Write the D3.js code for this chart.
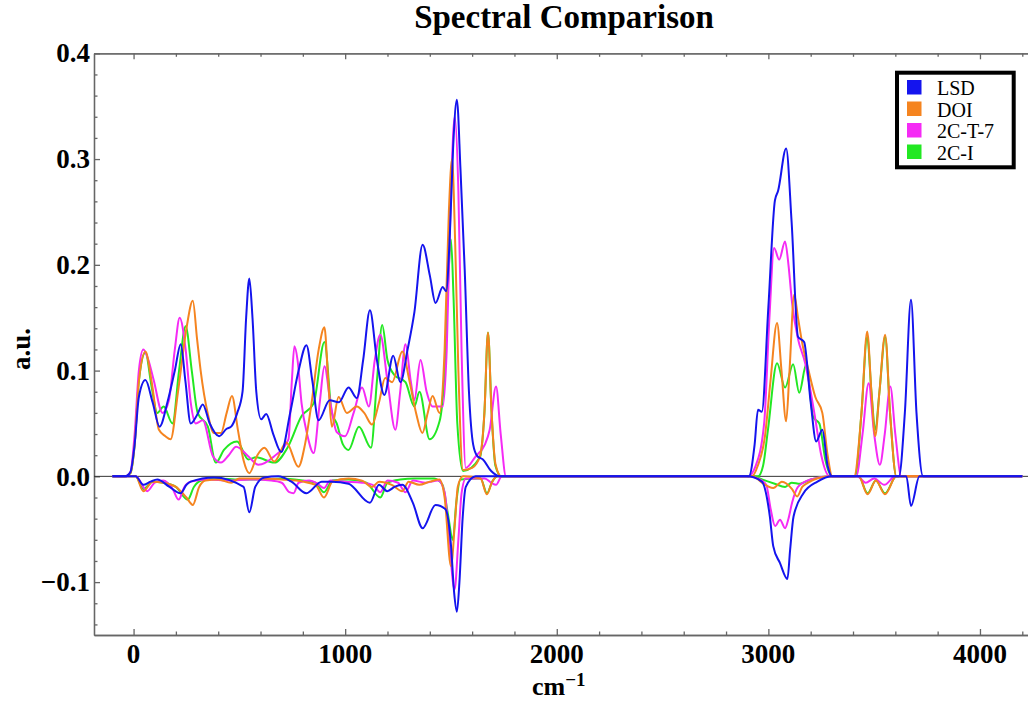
<!DOCTYPE html>
<html lang="en">
<head>
<meta charset="UTF-8" />
<title>Spectral Comparison</title>
<script src="https://d3js.org/d3.v7.min.js"></script>
<style>
  body { margin: 0; background: #fff; }
  svg text { font-family: "Liberation Serif", "Times New Roman", serif; }
  .curve { fill: none; stroke-width: 2; stroke-linejoin: round; }
  .frame path, .frame line { stroke: #666; stroke-width: 1.3; }
</style>
</head>
<body>
<svg id="chart" width="1028" height="702"></svg>
<script>
// series names and colours (legend order)
const names = ["LSD", "DOI", "2C-T-7", "2C-I"];
const colors = ["#1414ee", "#f5841f", "#f52af5", "#22e822"];

// [wavenumber cm-1, intensity a.u.]
const lsdUp = [[-100,0],[-40,0],[-15,0.004],[5,0.03],[25,0.075],[56,0.091],[90,0.07],[123,0.047],[160,0.07],[195,0.1],[223,0.125],[245,0.09],[270,0.05],[300,0.058],[327,0.068],[360,0.05],[404,0.038],[440,0.045],[461,0.047],[490,0.06],[515,0.08],[532,0.15],[547,0.187],[562,0.15],[580,0.08],[603,0.054],[627,0.059],[660,0.04],[698,0.023],[740,0.06],[780,0.1],[817,0.124],[845,0.09],[874,0.053],[927,0.072],[970,0.07],[1016,0.084],[1055,0.074],[1085,0.11],[1117,0.157],[1150,0.11],[1185,0.077],[1227,0.114],[1261,0.089],[1295,0.12],[1327,0.155],[1366,0.219],[1400,0.19],[1427,0.164],[1461,0.179],[1477,0.175],[1495,0.23],[1510,0.31],[1528,0.356],[1545,0.29],[1565,0.195],[1585,0.08],[1605,0.03],[1625,0.019],[1651,0.016],[1690,0.005],[1733,0],[2908,0],[2935,0.03],[2951,0.063],[2969,0.061],[3000,0.16],[3031,0.261],[3046,0.27],[3084,0.31],[3110,0.24],[3140,0.132],[3169,0.127],[3200,0.07],[3226,0.033],[3255,0.044],[3280,0.01],[3302,0],[3617,0],[3645,0.06],[3674,0.167],[3700,0.06],[3731,0],[4200,0]];
const lsdDown = [[-100,0],[10,0],[46,-0.008],[80,-0.005],[112,-0.003],[170,-0.01],[222,-0.016],[250,-0.008],[270,-0.005],[380,-0.001],[520,-0.01],[547,-0.034],[575,-0.01],[618,-0.001],[684,0],[746,-0.005],[817,-0.016],[889,-0.005],[937,-0.005],[1016,-0.007],[1117,-0.025],[1160,-0.008],[1199,-0.014],[1233,-0.01],[1270,-0.008],[1320,-0.025],[1366,-0.049],[1427,-0.027],[1474,-0.031],[1500,-0.065],[1515,-0.11],[1528,-0.128],[1540,-0.1],[1555,-0.04],[1570,-0.01],[1617,0],[2899,0],[2969,-0.005],[3007,-0.038],[3023,-0.066],[3055,-0.082],[3090,-0.097],[3103,-0.069],[3119,-0.038],[3166,-0.016],[3232,-0.005],[3302,0],[3652,0],[3674,-0.028],[3714,0],[4200,0]];

const doiUp = [[-100,0],[-40,0],[-15,0.003],[5,0.03],[25,0.09],[56,0.118],[85,0.09],[120,0.044],[150,0.038],[175,0.035],[210,0.08],[250,0.14],[280,0.166],[300,0.13],[317,0.1],[350,0.06],[380,0.041],[413,0.041],[440,0.06],[465,0.076],[493,0.044],[520,0.015],[547,0.003],[585,0.02],[618,0.027],[665,0.014],[722,0.032],[779,0.009],[810,0.03],[841,0.069],[875,0.12],[902,0.141],[920,0.09],[937,0.047],[969,0.075],[1008,0.06],[1055,0.066],[1090,0.06],[1127,0.049],[1160,0.07],[1189,0.093],[1222,0.089],[1270,0.118],[1303,0.091],[1335,0.06],[1365,0.041],[1390,0.06],[1413,0.076],[1446,0.06],[1470,0.12],[1490,0.25],[1505,0.3],[1520,0.22],[1535,0.1],[1557,0.006],[1600,0.008],[1637,0.019],[1658,0.06],[1675,0.136],[1692,0.06],[1710,0.012],[1738,0],[2922,0],[2950,0.01],[2984,0.038],[3010,0.09],[3041,0.145],[3062,0.1],[3084,0.052],[3100,0.1],[3122,0.172],[3140,0.15],[3160,0.126],[3190,0.1],[3222,0.075],[3255,0.06],[3280,0.02],[3302,0],[3405,0],[3440,0.06],[3467,0.137],[3487,0.08],[3505,0.038],[3525,0.08],[3552,0.134],[3575,0.06],[3605,0],[4200,0]];
const doiDown = [[-100,0],[10,0],[46,-0.014],[90,-0.005],[140,-0.006],[200,-0.01],[250,-0.02],[280,-0.027],[310,-0.01],[340,-0.004],[400,-0.003],[461,-0.006],[500,-0.002],[600,-0.002],[700,-0.003],[800,-0.005],[860,-0.008],[900,-0.02],[940,-0.005],[1016,-0.002],[1080,-0.004],[1127,-0.01],[1160,-0.005],[1220,-0.008],[1270,-0.014],[1300,-0.005],[1350,-0.008],[1400,-0.005],[1446,-0.003],[1470,-0.02],[1500,-0.085],[1520,-0.04],[1532,-0.01],[1557,0],[1640,-0.002],[1670,-0.017],[1695,-0.005],[1720,0],[2928,0],[2969,-0.006],[3023,-0.011],[3064,-0.005],[3112,-0.012],[3136,-0.019],[3160,-0.01],[3188,-0.006],[3230,-0.002],[3302,0],[3427,0],[3469,-0.017],[3508,-0.004],[3551,-0.017],[3605,0],[4200,0]];

const t7Up = [[-100,0],[-40,0],[-15,0.004],[5,0.04],[25,0.1],[46,0.12],[70,0.11],[95,0.091],[137,0.06],[167,0.072],[195,0.12],[218,0.15],[246,0.12],[270,0.07],[294,0.05],[327,0.053],[375,0.019],[413,0.013],[450,0.02],[485,0.028],[542,0.019],[589,0.011],[665,0.019],[732,0.035],[748,0.09],[760,0.123],[775,0.11],[794,0.069],[820,0.04],[851,0.022],[880,0.07],[902,0.104],[930,0.07],[960,0.042],[1000,0.038],[1040,0.06],[1080,0.084],[1112,0.066],[1140,0.11],[1166,0.134],[1200,0.09],[1237,0.044],[1260,0.08],[1285,0.125],[1310,0.09],[1327,0.072],[1356,0.11],[1385,0.08],[1413,0.066],[1461,0.066],[1480,0.12],[1500,0.27],[1518,0.34],[1535,0.27],[1550,0.12],[1570,0.008],[1617,0.019],[1660,0.03],[1683,0.044],[1713,0.085],[1735,0.04],[1760,0],[2903,0],[2940,0.01],[2980,0.05],[3005,0.15],[3027,0.216],[3051,0.205],[3079,0.222],[3095,0.2],[3112,0.164],[3140,0.13],[3174,0.107],[3200,0.08],[3222,0.054],[3250,0.02],[3290,0],[3415,0],[3445,0.04],[3474,0.088],[3500,0.04],[3527,0.011],[3550,0.04],[3576,0.085],[3600,0.04],[3628,0],[4200,0]];
const t7Down = [[-100,0],[10,0],[65,-0.014],[100,-0.006],[140,-0.004],[185,-0.012],[213,-0.022],[240,-0.01],[270,-0.005],[350,-0.003],[450,-0.004],[550,-0.003],[650,-0.004],[700,-0.006],[736,-0.015],[756,-0.016],[780,-0.006],[830,-0.004],[870,-0.007],[900,-0.011],[930,-0.004],[1000,-0.005],[1080,-0.006],[1130,-0.008],[1166,-0.015],[1200,-0.004],[1250,-0.006],[1285,-0.015],[1320,-0.004],[1380,-0.006],[1440,-0.004],[1470,-0.015],[1495,-0.07],[1517,-0.107],[1535,-0.06],[1550,-0.016],[1570,-0.002],[1660,-0.002],[1690,-0.006],[1713,-0.008],[1740,0],[2903,0],[2950,-0.002],[2990,-0.008],[3010,-0.03],[3032,-0.047],[3055,-0.041],[3079,-0.049],[3095,-0.04],[3112,-0.025],[3140,-0.01],[3200,-0.003],[3302,0],[3420,0],[3460,-0.006],[3500,-0.002],[3548,-0.008],[3600,0],[4200,0]];

const ciUp = [[-100,0],[-40,0],[-15,0.003],[5,0.03],[25,0.09],[56,0.117],[85,0.085],[112,0.06],[142,0.066],[184,0.05],[215,0.1],[246,0.142],[275,0.1],[303,0.06],[351,0.047],[389,0.013],[427,0.025],[489,0.033],[542,0.016],[580,0.018],[665,0.013],[730,0.028],[794,0.057],[851,0.069],[902,0.127],[937,0.06],[960,0.05],[990,0.03],[1016,0.025],[1065,0.047],[1122,0.027],[1150,0.09],[1175,0.143],[1200,0.11],[1232,0.096],[1285,0.089],[1327,0.066],[1351,0.08],[1399,0.035],[1446,0.052],[1470,0.1],[1488,0.19],[1500,0.224],[1512,0.17],[1530,0.05],[1557,0.005],[1637,0.018],[1658,0.06],[1675,0.136],[1692,0.06],[1710,0.01],[1738,0],[2951,0],[2975,0.01],[2998,0.044],[3041,0.107],[3079,0.084],[3117,0.106],[3146,0.079],[3179,0.106],[3212,0.056],[3241,0.05],[3270,0.015],[3302,0],[3410,0],[3440,0.06],[3467,0.132],[3487,0.08],[3505,0.044],[3525,0.08],[3552,0.132],[3575,0.06],[3605,0],[4200,0]];
const ciDown = [[-100,0],[10,0],[46,-0.012],[90,-0.005],[140,-0.006],[200,-0.01],[256,-0.022],[285,-0.01],[320,-0.004],[400,-0.002],[500,-0.003],[600,-0.003],[700,-0.002],[800,-0.004],[860,-0.006],[900,-0.015],[940,-0.004],[1016,-0.003],[1100,-0.006],[1166,-0.02],[1200,-0.006],[1260,-0.003],[1330,-0.002],[1420,-0.002],[1460,-0.008],[1485,-0.035],[1509,-0.06],[1525,-0.025],[1545,-0.003],[1640,-0.002],[1670,-0.016],[1695,-0.005],[1720,0],[2930,0],[2970,-0.003],[3030,-0.007],[3079,-0.01],[3110,-0.006],[3150,-0.007],[3200,-0.003],[3302,0],[3427,0],[3469,-0.016],[3508,-0.004],[3551,-0.016],[3605,0],[4200,0]];

const xMajor = [0, 1000, 2000, 3000, 4000];
const yMajor = [-0.1, 0.0, 0.1, 0.2, 0.3, 0.4];

// plot frame
const plotLeft = 94, plotRight = 1028, plotTop = 53.3, plotBottom = 635;

const svg = d3.select("#chart");

const x = d3.scaleLinear().domain([-187, 4227]).range([plotLeft, plotRight]);
const y = d3.scaleLinear().domain([-0.15, 0.4]).range([plotBottom, plotTop]);

const xMinor = d3.range(200, 4201, 200).filter(v => v % 1000 != 0);
const yMinor = d3.range(-14, 41, 2).map(v => v / 100).filter(v => Math.abs(v * 10 - Math.round(v * 10)) > 1e-6);

// axes, ticks pointing inward
function frameAxis(axis, transform) {
  const g = svg.append("g").attr("class", "frame").attr("transform", transform).call(axis);
  g.selectAll("text").remove();
  return g;
}

frameAxis(d3.axisBottom(x).tickValues(xMajor).tickSizeInner(-6).tickSizeOuter(0), `translate(0,${plotBottom})`);
frameAxis(d3.axisBottom(x).tickValues(xMinor).tickSizeInner(-3.5).tickSizeOuter(0), `translate(0,${plotBottom})`);
frameAxis(d3.axisTop(x).tickValues(xMajor).tickSizeInner(-6).tickSizeOuter(0), `translate(0,${plotTop})`);
frameAxis(d3.axisTop(x).tickValues(xMinor).tickSizeInner(-3.5).tickSizeOuter(0), `translate(0,${plotTop})`);
frameAxis(d3.axisLeft(y).tickValues(yMajor).tickSizeInner(-6).tickSizeOuter(0), `translate(${plotLeft},0)`);
frameAxis(d3.axisLeft(y).tickValues(yMinor).tickSizeInner(-3.5).tickSizeOuter(0), `translate(${plotLeft},0)`);

// tick labels
svg.append("g").selectAll("text").data(xMajor).join("text")
  .attr("x", d => x(d)).attr("y", 663)
  .attr("text-anchor", "middle")
  .attr("font-size", 27).attr("font-weight", "bold")
  .text(d => d);

svg.append("g").selectAll("text").data(yMajor).join("text")
  .attr("x", 90).attr("y", d => y(d)).attr("dy", "0.34em")
  .attr("text-anchor", "end")
  .attr("font-size", 27).attr("font-weight", "bold")
  .text(d3.format(".1f"));

// zero line
svg.append("line")
  .attr("x1", plotLeft).attr("x2", plotRight)
  .attr("y1", y(0)).attr("y2", y(0))
  .attr("stroke", "#333").attr("stroke-width", 1);

// curves
const line = d3.line()
  .x(d => x(d[0]))
  .y(d => y(d[1]))
  .curve(d3.curveMonotoneX);

const series = [
  [ciUp, ciDown, 3],
  [t7Up, t7Down, 2],
  [doiUp, doiDown, 1],
  [lsdUp, lsdDown, 0]
];

series.forEach(([up, down, i]) => {
  [up, down].forEach(pts => {
    svg.append("path")
      .attr("class", "curve")
      .attr("stroke", colors[i])
      .attr("d", line(pts));
  });
});

// title and axis labels
svg.append("text")
  .attr("x", 564).attr("y", 28)
  .attr("text-anchor", "middle")
  .attr("font-size", 33).attr("font-weight", "bold")
  .text("Spectral Comparison");

svg.append("text")
  .attr("transform", "translate(30,349) rotate(-90)")
  .attr("text-anchor", "middle")
  .attr("font-size", 27).attr("font-weight", "bold")
  .text("a.u.");

const xl = svg.append("text")
  .attr("x", 532).attr("y", 695)
  .attr("font-size", 26).attr("font-weight", "bold");
xl.append("tspan").text("cm");
xl.append("tspan").attr("dy", -9).attr("font-size", 19).text("\u22121");

// legend
const lg = svg.append("g");
lg.append("rect")
  .attr("x", 897).attr("y", 72.7)
  .attr("width", 116.7).attr("height", 94.6)
  .attr("fill", "#fff").attr("stroke", "#000").attr("stroke-width", 4);

names.forEach((n, i) => {
  lg.append("rect")
    .attr("x", 907).attr("y", 80 + i * 21.5)
    .attr("width", 14.5).attr("height", 14.5)
    .attr("fill", colors[i]);
  lg.append("text")
    .attr("x", 937).attr("y", 95 + i * 21.5)
    .attr("font-size", 20)
    .text(n);
});
</script>
</body>
</html>
